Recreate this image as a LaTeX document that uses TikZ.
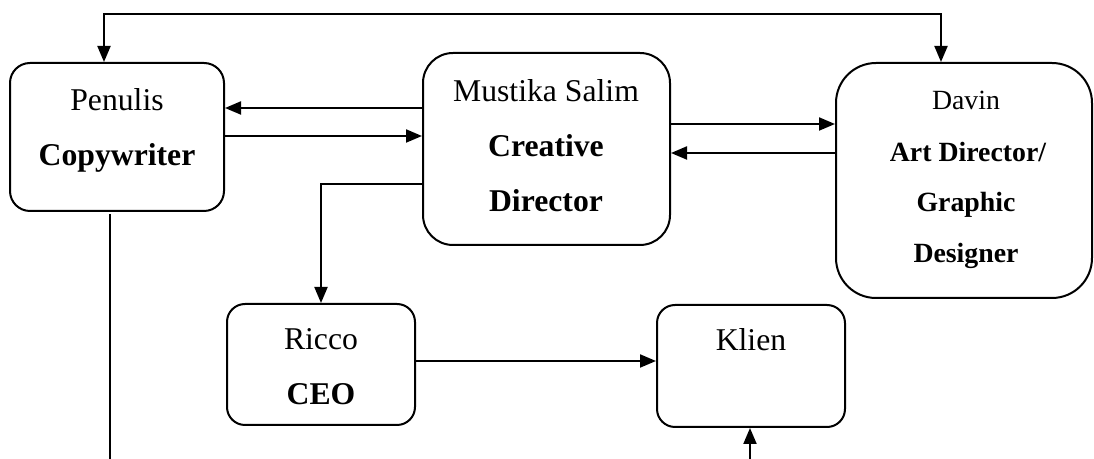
\documentclass[tikz,border=0pt]{standalone}
\usepackage{fontspec}
\setmainfont{Liberation Serif}
\usetikzlibrary{arrows.meta}
\tikzset{
  box/.style={draw, line width=1pt, rounded corners=#1, inner sep=0pt},
  box/.default=10pt,
  txt/.style={anchor=base, inner sep=0pt, font=\fontsize{15.85}{18}\selectfont},
  txtb/.style={txt, font=\fontsize{15.85}{18}\selectfont\bfseries},
  stxt/.style={anchor=base, inner sep=0pt, font=\fontsize{13.9}{16}\selectfont},
  stxtb/.style={stxt, font=\fontsize{13.9}{16}\selectfont\bfseries},
  conn/.style={line width=1pt},
  arr/.style={conn, -{Triangle[length=8pt,width=6.5pt]}},
  arrr/.style={conn, {Triangle[length=8pt,width=6.5pt]}-{Triangle[length=8pt,width=6.5pt]}}
}
\begin{document}
\begin{tikzpicture}[x=0.5pt,y=-0.5pt]
\useasboundingbox (0,0) rectangle (1094,459);
% boxes
\node[box=10pt, minimum width=107pt, minimum height=74pt] (pen) at (117,137) {};
\node[box=15pt, minimum width=123.5pt, minimum height=96pt] (mus) at (546.5,149) {};
\node[box=20pt, minimum width=128pt, minimum height=117.5pt] (dav) at (964,180.5) {};
\node[box=9pt, minimum width=94pt, minimum height=60.5pt] (ric) at (321,364.5) {};
\node[box=9pt, minimum width=94pt, minimum height=61pt] (kli) at (751,366) {};
% texts
\node[txt] (penA) at (117,111) {Penulis};
\node[txtb] (penB) at (117,166) {Copywriter};
\node[txt] (musA) at (546,102) {Mustika Salim};
\node[txtb] (musB) at (546,157) {Creative};
\node[txtb] (musC) at (546,212) {Director};
\node[stxt] (davA) at (966,110) {Davin};
\node[stxtb] (davB) at (968,162) {Art Director/};
\node[stxtb] (davC) at (966,212) {Graphic};
\node[stxtb] (davD) at (966,263) {Designer};
\node[txt] (ricA) at (321,350) {Ricco};
\node[txtb] (ricB) at (321,405) {CEO};
\node[txt] (kliA) at (751,351) {Klien};
% connectors
\coordinate (tl) at (104,14);
\coordinate (tr) at (941,14);
\draw[arrr] (tl |- pen.north) -- (tl) -- (tr) -- (tr |- dav.north);
\draw[arr] (mus.west |- 0,108) -- (pen.east |- 0,108);
\draw[arr] (pen.east |- 0,136) -- (mus.west |- 0,136);
\draw[arr] (mus.east |- 0,124) -- (dav.west |- 0,124);
\draw[arr] (dav.west |- 0,153) -- (mus.east |- 0,153);
\draw[arr] (mus.west |- 0,184) -| (ric.north);
\draw[arr] (ric.east |- 0,361) -- (kli.west |- 0,361);
\coordinate (penout) at (110,459);
\draw[conn] (110,214) -- (penout);
\coordinate (kin) at (750,459);
\draw[arr] (kin) -- (kin |- kli.south);
\end{tikzpicture}
\end{document}
